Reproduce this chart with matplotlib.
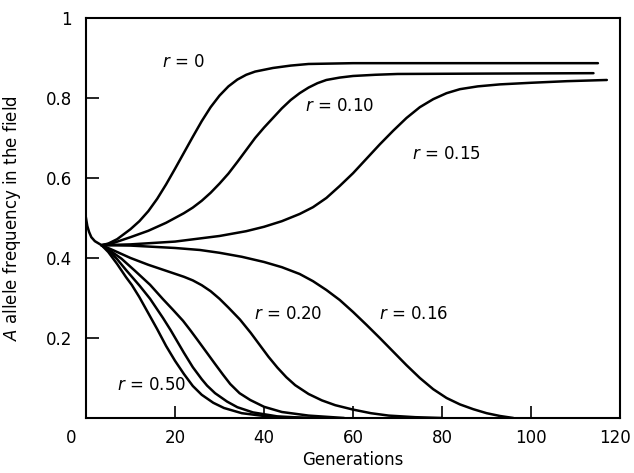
import matplotlib
matplotlib.use("Agg")
from matplotlib import pyplot as plt
from matplotlib.transforms import ScaledTranslation

# shared start: every run begins near 0.5 and drops to ~0.43 within a few generations
start_gen = [0, 0.3, 0.7, 1.2, 2, 3.5]
start_val = [0.50, 0.48, 0.465, 0.452, 0.442, 0.432]

# r = 0
gen_r0 = [3.5, 5, 7, 10, 12, 14, 16, 18, 20, 22, 24, 26, 28, 30, 32, 34, 36, 38, 42, 46, 50, 60, 80, 115]
val_r0 = [0.432, 0.436, 0.447, 0.472, 0.492, 0.517, 0.548, 0.584, 0.623, 0.663, 0.703, 0.742, 0.777,
          0.806, 0.829, 0.846, 0.858, 0.866, 0.875, 0.881, 0.885, 0.887, 0.887, 0.887]

# r = 0.10
gen_r10 = [3.5, 6, 10, 14, 18, 22, 24, 26, 28, 30, 32, 34, 36, 38, 40, 42, 44, 46, 48, 50, 52, 54, 57,
           60, 65, 70, 90, 114]
val_r10 = [0.432, 0.437, 0.452, 0.468, 0.488, 0.512, 0.526, 0.543, 0.563, 0.586, 0.611, 0.64, 0.67, 0.70,
           0.726, 0.75, 0.774, 0.795, 0.812, 0.826, 0.837, 0.845, 0.851, 0.855, 0.858, 0.86, 0.861, 0.862]

# r = 0.15
gen_r15 = [3.5, 10, 20, 30, 36, 40, 44, 48, 51, 54, 57, 60, 63, 66, 69, 72, 75, 78, 81, 84, 88, 93,
           100, 108, 117]
val_r15 = [0.432, 0.434, 0.441, 0.455, 0.467, 0.478, 0.492, 0.51, 0.527, 0.55, 0.58, 0.612, 0.648, 0.684,
           0.718, 0.75, 0.777, 0.797, 0.812, 0.822, 0.829, 0.834, 0.838, 0.842, 0.845]

# r = 0.16
gen_r16 = [3.5, 10, 20, 25.6, 30, 35, 40, 44, 48, 51, 54, 57, 60, 63, 66, 69, 72, 75, 78, 81, 84, 87,
           90, 93, 96]
val_r16 = [0.432, 0.431, 0.425, 0.42, 0.413, 0.403, 0.39, 0.377, 0.36, 0.342, 0.32, 0.295, 0.265, 0.233,
           0.2, 0.166, 0.132, 0.1, 0.072, 0.05, 0.034, 0.022, 0.012, 0.005, 0.0]

# r = 0.20
gen_r20 = [3.5, 6, 10, 14, 18, 22, 24, 26, 28, 30, 32, 34.6, 37, 39, 41, 43, 45, 47, 50, 53, 56, 60, 64,
           68, 74, 80]
val_r20 = [0.432, 0.42, 0.40, 0.383, 0.368, 0.353, 0.344, 0.332, 0.317, 0.298, 0.276, 0.246, 0.213, 0.183,
           0.153, 0.126, 0.102, 0.082, 0.06, 0.044, 0.032, 0.021, 0.012, 0.006, 0.002, 0.0]

# two unlabelled runs between r = 0.20 and r = 0.50
gen_mid2 = [3.5, 5, 8, 11, 14.4, 17.3, 19.5, 21.8, 23.4, 25, 27.2, 29, 30.8, 32.4, 34.5, 36.9, 40, 44,
            50, 58]
val_mid2 = [0.432, 0.422, 0.398, 0.368, 0.333, 0.297, 0.271, 0.243, 0.220, 0.196, 0.1625, 0.135, 0.108,
            0.085, 0.062, 0.045, 0.028, 0.015, 0.006, 0.0]

gen_mid1 = [3.5, 5, 7, 9, 12.1, 14.4, 17.3, 19, 21, 22, 24, 26, 27.2, 29, 31.7, 34, 37.5, 43, 50]
val_mid1 = [0.432, 0.42, 0.397, 0.37, 0.330, 0.298, 0.25, 0.22, 0.182, 0.163, 0.127, 0.097, 0.081,
            0.062, 0.041, 0.027, 0.014, 0.004, 0.0]

# r = 0.50
gen_r50 = [3.5, 5, 7, 9, 10.3, 12, 14, 16, 18, 20, 22, 24, 26, 28.6, 31, 35, 40, 45, 50]
val_r50 = [0.432, 0.415, 0.385, 0.352, 0.3325, 0.302, 0.262, 0.222, 0.18, 0.143, 0.11, 0.08, 0.058,
           0.038, 0.025, 0.012, 0.005, 0.001, 0.0]

labels = ["$r$ = 0", "$r$ = 0.10", "$r$ = 0.15", "$r$ = 0.20", "$r$ = 0.16", "$r$ = 0.50"]
label_gen = [21.8, 57, 81, 45.4, 73.5, 14.8]
label_val = [0.89, 0.78, 0.66, 0.26, 0.26, 0.083]

plt.rcParams["font.family"] = "DejaVu Sans"
fig = plt.figure(figsize=(6.34, 4.73), dpi=100)
ax = fig.add_axes([0.1356, 0.1163, 0.8426, 0.8457])

lw = 1.8
ax.plot(start_gen, start_val, color="black", lw=lw)
for g, v in [(gen_r0, val_r0), (gen_r10, val_r10), (gen_r15, val_r15),
             (gen_r16, val_r16), (gen_r20, val_r20), (gen_mid2, val_mid2),
             (gen_mid1, val_mid1), (gen_r50, val_r50)]:
    ax.plot(g, v, color="black", lw=lw, solid_joinstyle="round", solid_capstyle="round")

for t, x, y in zip(labels, label_gen, label_val):
    ax.text(x, y, t, fontsize=12, ha="center", va="center")

ax.set_xlim(0, 120)
ax.set_ylim(0, 1)
ax.set_xticks([0, 20, 40, 60, 80, 100, 120])
ax.set_yticks([0.2, 0.4, 0.6, 0.8, 1.0])
ax.set_yticklabels(["0.2", "0.4", "0.6", "0.8", "1"])
ax.tick_params(direction="in", length=9, width=1.2, labelsize=12)
ax.tick_params(axis="x", pad=8)
ax.tick_params(axis="y", pad=10)
for s in ax.spines.values():
    s.set_linewidth(1.5)

# the "0" under the origin sits a little to the left of the axis, "120" a bit inside the edge
xl = ax.get_xticklabels()
xl[0].set_transform(xl[0].get_transform() + ScaledTranslation(-0.15, 0, fig.dpi_scale_trans))
xl[-1].set_transform(xl[-1].get_transform() + ScaledTranslation(-0.05, 0, fig.dpi_scale_trans))

ax.set_xlabel("Generations", fontsize=12, labelpad=3)
ax.set_ylabel("$A$ allele frequency in the field", fontsize=12, labelpad=16)

plt.savefig("out.png", dpi=100)
